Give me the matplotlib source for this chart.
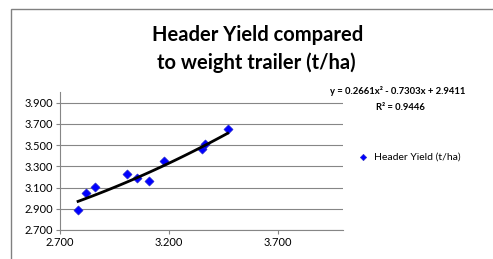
import matplotlib.pyplot as plt
import numpy as np
from matplotlib.patches import Rectangle

# weight trailer (t/ha) vs header yield (t/ha)
weight_trailer = [2.783, 2.818, 2.862, 3.006, 3.056, 3.109, 3.180, 3.350, 3.367, 3.470]
header_yield = [2.888, 3.044, 3.106, 3.228, 3.191, 3.166, 3.353, 3.463, 3.509, 3.656]
trend_coef = [0.2661, -0.7303, 2.9411]
x_ticks = [2.7, 3.2, 3.7]
y_ticks = [2.7, 2.9, 3.1, 3.3, 3.5, 3.7, 3.9]

plt.rcParams['font.family'] = ['Lato', 'DejaVu Sans']
grey = '#868686'

fig = plt.figure(figsize=(4.93, 2.59), dpi=100)
ax = fig.add_axes([60 / 493, 1 - 230 / 259, (343 - 60) / 493, (230 - 92) / 259])

ax.scatter(weight_trailer, header_yield, marker='D', s=22, color='#0000ff',
           edgecolors='#3030c0', linewidths=0.4, zorder=3, label='Header Yield (t/ha)')
xs = np.linspace(min(weight_trailer), max(weight_trailer), 100)
ax.plot(xs, np.polyval(trend_coef, xs), color='black', lw=2, zorder=4)

ax.set_xlim(2.7, 4.0)
ax.set_ylim(2.7, 4.0)
ax.set_xticks(x_ticks)
ax.set_yticks(y_ticks)
ax.set_xticklabels([f'{v:.3f}' for v in x_ticks])
ax.set_yticklabels([f'{v:.3f}' for v in y_ticks])
ax.tick_params(labelsize=8, color=grey, length=3, width=0.8, pad=2)
ax.yaxis.grid(True, color=grey, lw=0.8)
ax.set_axisbelow(True)
for s in ['top', 'right']:
    ax.spines[s].set_visible(False)
for s in ['left', 'bottom']:
    ax.spines[s].set_color(grey)
    ax.spines[s].set_linewidth(0.8)

fig.text(258 / 493, 1 - 35 / 259, 'Header Yield compared', ha='center', va='center',
         fontsize=14.5, fontweight='bold')
fig.text(256 / 493, 1 - 63 / 259, 'to weight trailer (t/ha)', ha='center', va='center',
         fontsize=14.5, fontweight='bold')
fig.text(398 / 493, 1 - 91 / 259, 'y = 0.2661x² - 0.7303x + 2.9411', ha='center', va='center',
         fontsize=6.8, fontweight='bold')
fig.text(400 / 493, 1 - 107 / 259, 'R² = 0.9446', ha='center', va='center',
         fontsize=6.8, fontweight='bold')

fig.legend(loc='center left', bbox_to_anchor=(343 / 493, 1 - 157 / 259), frameon=False,
           fontsize=7.5, handletextpad=0.1, markerscale=0.7)

fig.patches.append(Rectangle((11 / 493, -0.1), 1, 1 - 9.5 / 259 + 0.1, transform=fig.transFigure,
                             fill=False, edgecolor='#808080', lw=1))

fig.savefig('out.png', dpi=100)
